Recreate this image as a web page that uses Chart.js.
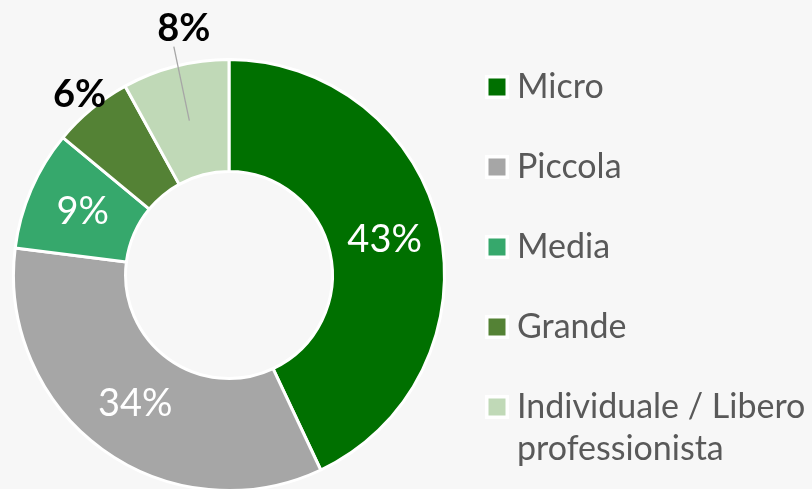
<!DOCTYPE html>
<html lang="it">
  <head>
    <meta charset="UTF-8" />
    <title>dimensione</title>
    <script src="https://cdn.jsdelivr.net/npm/chart.js@4.4.1/dist/chart.umd.min.js"></script>
    <style>
      html, body { margin: 0; padding: 0; background: #f7f7f7; }
      #wrap { width: 812px; height: 489px; overflow: hidden; position: relative; }
      #box { width: 812px; height: 492px; position: absolute; left: 0; top: 0; }
    </style>
  </head>
  <body>
    <div id="wrap"><div id="box"><canvas id="myChart"></canvas></div></div>

    <script>
      // data
      const categories = ['Micro', 'Piccola', 'Media', 'Grande', 'Individuale / Libero professionista'];
      const shares = [43, 34, 9, 6, 8];
      const colours = ['#007000', '#a6a6a6', '#36a86c', '#548235', '#c0d9b7'];
      // label placement: 'in' = white text on the ring, 'out' = black text outside
      const labelMode = ['in', 'in', 'in', 'out', 'leader'];

      const FONT = 'Lato, "Open Sans", sans-serif';

      const sliceLabels = {
        id: 'sliceLabels',
        afterDatasetsDraw(chart) {
          const ctx = chart.ctx;
          const meta = chart.getDatasetMeta(0);
          ctx.save();
          ctx.textAlign = 'center';
          ctx.textBaseline = 'middle';
          meta.data.forEach((arc, i) => {
            const p = arc.getProps(['x', 'y', 'startAngle', 'endAngle', 'innerRadius', 'outerRadius']);
            const mid = (p.startAngle + p.endAngle) / 2;
            const rMid = (p.innerRadius + p.outerRadius) / 2;
            const txt = shares[i] + '%';
            if (labelMode[i] === 'in') {
              ctx.fillStyle = '#ffffff';
              ctx.font = '38px ' + FONT;
              ctx.fillText(txt, p.x + Math.cos(mid) * rMid, p.y + Math.sin(mid) * rMid);
            } else if (labelMode[i] === 'out') {
              const r = p.outerRadius + 19;
              ctx.fillStyle = '#000000';
              ctx.font = 'bold 38px ' + FONT;
              ctx.fillText(txt, p.x + Math.cos(mid) * r, p.y + Math.sin(mid) * r);
            } else {
              const a = mid + 0.07;
              const r = p.outerRadius + 35;
              const lx = p.x + Math.cos(a) * r, ly = p.y + Math.sin(a) * r;
              ctx.strokeStyle = '#a6a6a6';
              ctx.lineWidth = 1.3;
              ctx.beginPath();
              ctx.moveTo(p.x + Math.cos(mid) * rMid, p.y + Math.sin(mid) * rMid);
              ctx.lineTo(lx - 10, ly + 18);
              ctx.stroke();
              ctx.fillStyle = '#000000';
              ctx.font = 'bold 38px ' + FONT;
              ctx.fillText(txt, lx, ly);
            }
          });
          ctx.restore();
        }
      };

      const sideLegend = {
        id: 'sideLegend',
        afterDraw(chart) {
          const ctx = chart.ctx;
          const ds = chart.data.datasets[0];
          const x0 = 485, textX = 517, maxW = 812 - textX;
          let y = 87;
          ctx.save();
          ctx.font = '34px ' + FONT;
          ctx.textBaseline = 'middle';
          chart.data.labels.forEach((lab, i) => {
            ctx.fillStyle = '#ffffff';
            ctx.fillRect(x0, y - 12, 24, 24);
            ctx.fillStyle = ds.backgroundColor[i];
            ctx.fillRect(x0 + 3.5, y - 8.5, 17, 17);
            // simple word wrap
            const words = lab.split(' ');
            const lines = [];
            let cur = '';
            words.forEach(w => {
              const t = cur ? cur + ' ' + w : w;
              if (ctx.measureText(t).width > maxW && cur) { lines.push(cur); cur = w; } else cur = t;
            });
            lines.push(cur);
            ctx.fillStyle = '#595959';
            lines.forEach((ln, k) => ctx.fillText(ln, textX, y + k * 42));
            y += 80;
          });
          ctx.restore();
        }
      };

      new Chart(document.getElementById('myChart'), {
        type: 'doughnut',
        data: {
          labels: categories,
          datasets: [{
            data: shares,
            backgroundColor: colours,
            borderColor: '#ffffff',
            borderWidth: 3
          }]
        },
        options: {
          responsive: true,
          maintainAspectRatio: false,
          animation: false,
          cutout: '48%',
          layout: { padding: { left: 12, top: 58, right: 366, bottom: 0 } },
          plugins: { legend: { display: false }, tooltip: { enabled: false } }
        },
        plugins: [sliceLabels, sideLegend]
      });
    </script>
  </body>
</html>
